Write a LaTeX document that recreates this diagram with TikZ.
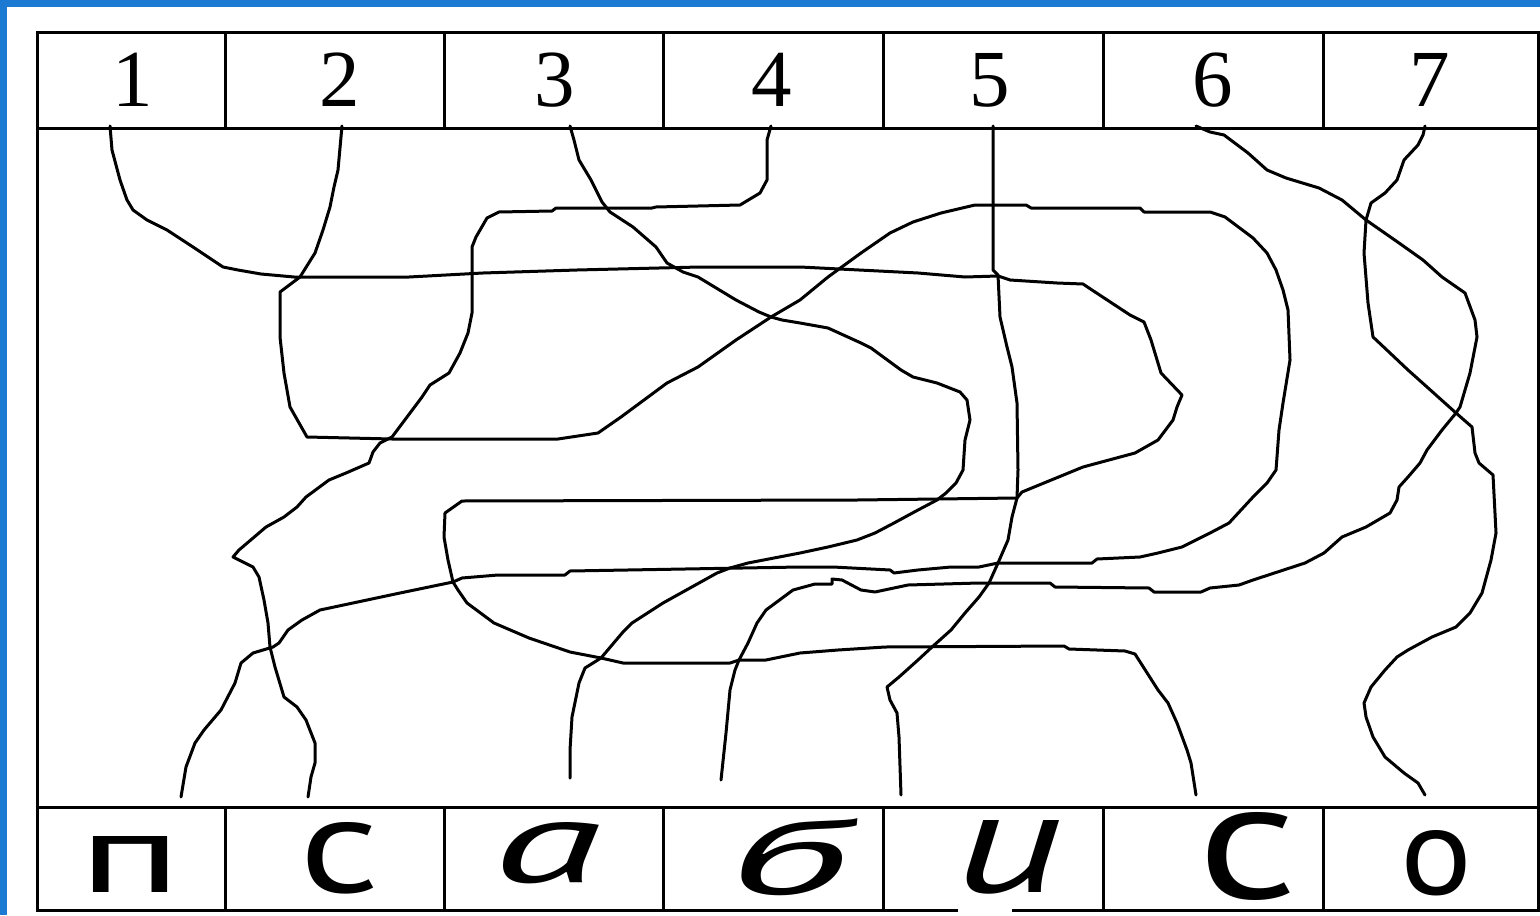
\documentclass[tikz,border=0pt]{standalone}
\usepackage{fontspec}
\setmainfont{Liberation Serif}
\newfontfamily\hand{PT Sans}
\definecolor{slideblue}{RGB}{28,122,210}
\begin{document}
\begin{tikzpicture}[x=0.5pt,y=-0.5pt,
  grid/.style={line width=1.5pt,black},
  maze/.style={line width=1.5pt,line join=round,line cap=round,black},
  num/.style={anchor=base,inner sep=0pt,font=\fontsize{40.5pt}{40.5pt}\selectfont},
  letter/.style={anchor=base,inner sep=0pt,font=\hand}]
\useasboundingbox (0,0) rectangle (1540,915);
\fill[slideblue] (0,0) rectangle (1540,915);
\fill[white] (7,7) rectangle (1540,915);

% table
\draw[grid] (958,910) -- (37,910) -- (37,33) -- (1538,33) -- (1538,910) -- (1012,910);
\draw[grid] (37,128) -- (1538,128);
\draw[grid] (37,807) -- (1538,807);
\foreach \cx in {225,444,663,883,1103,1323}{
  \draw[grid] (\cx,33) -- (\cx,128);
  \draw[grid] (\cx,807) -- (\cx,910);
}

% numbers
\node[num] (n1) at (133,106) {1};
\node[num] (n2) at (340,106) {2};
\node[num] (n3) at (555,106) {3};
\node[num] (n4) at (772,106) {4};
\node[num] (n5) at (990,106) {5};
\node[num] (n6) at (1213,106) {6};
\node[num] (n7) at (1430,106) {7};

% letters
\node[letter] (l1) at (131,892) {\resizebox{52pt}{28pt}{п}};
\node[letter] (l2) at (340,892) {\resizebox{40pt}{35pt}{с}};
\node[letter] (l3) at (548,882) {\resizebox{54pt}{30pt}{\itshape а}};
\node[letter] (l4) at (788,894) {\resizebox{60pt}{38pt}{\itshape б}};
\node[letter] (l5) at (1008,892) {\resizebox{54pt}{36pt}{\itshape и}};
\node[letter] (l6) at (1248,898) {\resizebox{50pt}{43pt}{с}};
\node[letter] (l7) at (1436,894) {\resizebox{36pt}{32pt}{о}};

% path ends
\coordinate (t1) at (110,126);
\coordinate (t2) at (342,126);
\coordinate (t3) at (570,126);
\coordinate (t4) at (771,126);
\coordinate (t5) at (993,126);
\coordinate (t6) at (1196,126);
\coordinate (t7) at (1425,126);
\coordinate (e1) at (181,797);
\coordinate (e2) at (308,797);
\coordinate (e3) at (570,778);
\coordinate (e4) at (721,780);
\coordinate (e5) at (901,795);
\coordinate (e6) at (1196,795);
\coordinate (e7) at (1425,795);

% path 1 -> c (col 6)
\draw[maze] (t1) -- (112,150) -- (120,180) -- (127,200) -- (133,210) -- (147,220) -- (167,230)
  -- (193,247) -- (223,267) -- (238,270) -- (261,274) -- (294,277) -- (409,277) -- (483,273)
  -- (577,270) -- (700,267) -- (800,267) -- (918,273) -- (965,277) -- (998,276) -- (1010,280)
  -- (1057,283) -- (1083,284) -- (1092,290) -- (1130,315) -- (1144,322) -- (1151,340)
  -- (1161,373) -- (1182,395) -- (1177,407) -- (1173,420) -- (1158,440) -- (1135,453)
  -- (1083,467) -- (1022,492) -- (1017,498) -- (857,500) -- (462,501) -- (445,513)
  -- (444,537) -- (448,560) -- (453,582) -- (458,590) -- (467,603) -- (494,623) -- (529,638)
  -- (570,652) -- (601,658) -- (623,663) -- (730,663) -- (739,660) -- (766,660) -- (800,653)
  -- (838,650) -- (885,647) -- (1064,646) -- (1069,649) -- (1125,651) -- (1135,654)
  -- (1158,690) -- (1168,703) -- (1177,723) -- (1187,750) -- (1191,763) -- (e6);

% path 2 -> п (col 1)
\draw[maze] (t2) -- (338,170) -- (334,187) -- (330,207) -- (323,230) -- (315,253) -- (300,277)
  -- (292,283) -- (280,292) -- (280,337) -- (284,373) -- (290,407) -- (307,437) -- (392,439)
  -- (558,439) -- (598,433) -- (621,417) -- (667,383) -- (698,367) -- (736,340) -- (771,317)
  -- (800,300) -- (828,277) -- (861,253) -- (890,233) -- (913,222) -- (941,213) -- (975,205)
  -- (1026,205) -- (1031,208) -- (1140,208) -- (1144,212) -- (1210,212) -- (1225,217)
  -- (1253,238) -- (1267,253) -- (1276,270) -- (1283,290) -- (1288,310) -- (1290,360)
  -- (1283,403) -- (1279,430) -- (1276,470) -- (1267,483) -- (1253,497) -- (1229,523)
  -- (1210,533) -- (1182,547) -- (1158,553) -- (1140,557) -- (1097,559) -- (1092,563)
  -- (998,563) -- (979,567) -- (951,567) -- (918,570) -- (894,573) -- (890,570) -- (833,567)
  -- (800,567) -- (570,571) -- (565,575) -- (498,575) -- (462,578) -- (453,582) -- (400,593)
  -- (320,610) -- (302,620) -- (288,630) -- (279,643) -- (273,647) -- (253,653) -- (241,663)
  -- (235,683) -- (221,710) -- (204,730) -- (195,743) -- (186,767) -- (e1);

% path 3 -> а (col 3)
\draw[maze] (t3) -- (574,140) -- (579,160) -- (591,180) -- (602,202) -- (610,212) -- (633,227)
  -- (656,247) -- (667,263) -- (683,272) -- (698,277) -- (736,300) -- (759,312) -- (771,317)
  -- (782,320) -- (800,323) -- (828,328) -- (861,343) -- (871,348) -- (901,370) -- (913,377)
  -- (937,383) -- (960,392) -- (967,400) -- (970,420) -- (965,440) -- (963,470) -- (956,483)
  -- (946,493) -- (937,500) -- (918,510) -- (894,523) -- (875,533) -- (857,540) -- (828,547)
  -- (800,553) -- (748,563) -- (730,568) -- (717,573) -- (681,593) -- (663,603) -- (632,623)
  -- (623,632) -- (601,658) -- (585,668) -- (579,683) -- (572,717) -- (570,750) -- (e3);

% path 4 -> с (col 2)
\draw[maze] (t4) -- (767,140) -- (767,180) -- (760,193) -- (740,205) -- (656,207) -- (652,208)
  -- (556,208) -- (552,211) -- (499,212) -- (487,218) -- (476,237) -- (472,247) -- (472,313)
  -- (468,333) -- (460,353) -- (449,373) -- (430,385) -- (422,397) -- (407,417) -- (392,437)
  -- (380,443) -- (373,452) -- (369,463) -- (346,473) -- (329,480) -- (306,497) -- (297,507)
  -- (284,517) -- (266,527) -- (239,550) -- (233,557) -- (253,567) -- (259,577) -- (264,600)
  -- (268,623) -- (270,647) -- (275,667) -- (284,697) -- (297,707) -- (306,720) -- (315,743)
  -- (315,763) -- (311,777) -- (e2);

% path 5 -> и (col 5)
\draw[maze] (t5) -- (993,270) -- (998,275) -- (1000,317) -- (1007,347) -- (1012,367)
  -- (1017,403) -- (1018,470) -- (1017,498) -- (1012,517) -- (1008,540) -- (998,563)
  -- (989,583) -- (979,597) -- (965,613) -- (951,630) -- (932,647) -- (918,660) -- (899,677)
  -- (887,687) -- (890,700) -- (897,713) -- (899,737) -- (e5);

% path 6 -> б (col 4)
\draw[maze] (t6) -- (1210,132) -- (1224,135) -- (1248,153) -- (1267,170) -- (1286,178)
  -- (1319,188) -- (1342,200) -- (1366,220) -- (1399,243) -- (1423,260) -- (1442,277)
  -- (1465,293) -- (1475,320) -- (1477,337) -- (1470,373) -- (1460,407) -- (1456,413)
  -- (1442,430) -- (1427,450) -- (1420,463) -- (1408,477) -- (1399,487) -- (1397,500)
  -- (1390,513) -- (1366,527) -- (1342,537) -- (1324,553) -- (1305,563) -- (1253,580)
  -- (1239,585) -- (1210,588) -- (1201,592) -- (1154,592) -- (1149,588) -- (1055,587)
  -- (1050,583) -- (979,583) -- (908,585) -- (875,592) -- (861,590) -- (842,580) -- (832,579)
  -- (832,584) -- (815,584) -- (793,590) -- (766,610) -- (757,623) -- (748,643) -- (739,660)
  -- (735,670) -- (730,690) -- (726,733) -- (e4);

% path 7 -> о (col 7)
\draw[maze] (t7) -- (1423,135) -- (1418,145) -- (1404,160) -- (1397,180) -- (1385,193)
  -- (1371,203) -- (1366,220) -- (1364,253) -- (1368,303) -- (1373,337) -- (1390,353)
  -- (1408,370) -- (1427,387) -- (1456,413) -- (1472,427) -- (1475,453) -- (1479,463)
  -- (1493,475) -- (1496,533) -- (1491,560) -- (1482,593) -- (1470,613) -- (1456,627)
  -- (1432,637) -- (1408,650) -- (1397,657) -- (1385,670) -- (1371,687) -- (1364,703)
  -- (1366,717) -- (1373,737) -- (1385,757) -- (1404,773) -- (1418,783) -- (e7);
\end{tikzpicture}
\end{document}
